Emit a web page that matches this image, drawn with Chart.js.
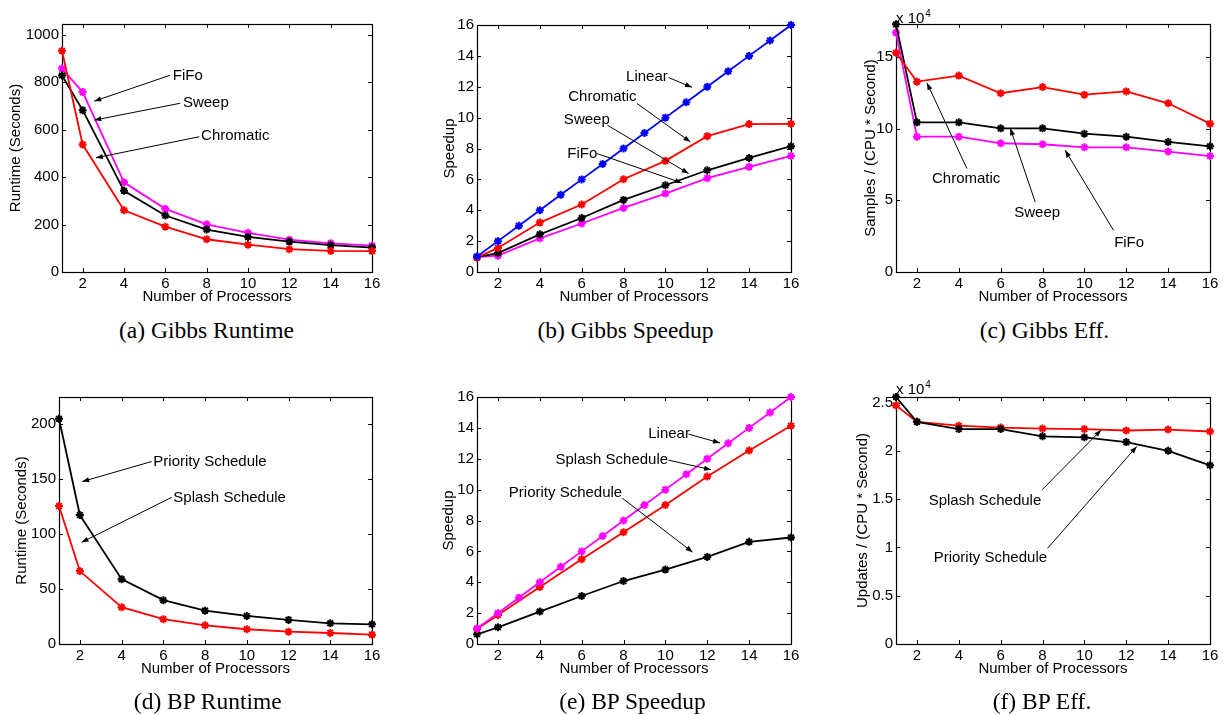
<!DOCTYPE html>
<html>
<head>
<meta charset="utf-8">
<script src="https://cdn.jsdelivr.net/npm/chart.js@4"></script>
<style>
body { margin: 0; background: #fff; width: 1224px; height: 715px; overflow: hidden; position: relative; }
canvas { position: absolute; }
.cap { position: absolute; font-family: "Liberation Serif", "Times New Roman", serif; font-size: 23.5px; line-height: 1; white-space: nowrap; transform: translateX(-50%); color: #000; }
</style>
</head>
<body>
<canvas id="ga"></canvas>
<canvas id="gb"></canvas>
<canvas id="gc"></canvas>
<canvas id="bd"></canvas>
<canvas id="be"></canvas>
<canvas id="bf"></canvas>
<div class="cap" style="left:206.5px;top:318.6px">(a) Gibbs Runtime</div>
<div class="cap" style="left:625.5px;top:318.6px">(b) Gibbs Speedup</div>
<div class="cap" style="left:1044.5px;top:318.6px">(c) Gibbs Eff.</div>
<div class="cap" style="left:207.8px;top:689.6px">(d) BP Runtime</div>
<div class="cap" style="left:632.5px;top:689.6px">(e) BP Speedup</div>
<div class="cap" style="left:1042px;top:689.6px">(f) BP Eff.</div>
<script>
// x values (number of processors)
var procs = [1, 2, 4, 6, 8, 10, 12, 14, 16];
var procsAll = [1, 2, 3, 4, 5, 6, 7, 8, 9, 10, 11, 12, 13, 14, 15, 16];
var linearSpeedup = [1, 2, 3, 4, 5, 6, 7, 8, 9, 10, 11, 12, 13, 14, 15, 16];
var xTicks = [2, 4, 6, 8, 10, 12, 14, 16];

// (a) Gibbs runtime (seconds)
var gibbsRuntimeChromatic = [932, 537, 260, 191, 138, 115, 96, 89, 88];
var gibbsRuntimeSweep = [828, 682, 342, 238, 179, 148, 128, 113, 103];
var gibbsRuntimeFifo = [857, 758, 378, 266, 201, 165, 136, 121, 111];
var yTicksRuntimeA = [0, 200, 400, 600, 800, 1000];

// (b) Gibbs speedup
var gibbsSpeedupChromatic = [0.93, 1.56, 3.2, 4.37, 6.01, 7.2, 8.8, 9.58, 9.6];
var gibbsSpeedupSweep = [0.97, 1.23, 2.44, 3.5, 4.67, 5.62, 6.59, 7.39, 8.15];
var gibbsSpeedupFifo = [0.97, 1.06, 2.18, 3.14, 4.15, 5.08, 6.08, 6.81, 7.52];
var yTicksSpeedup = [0, 2, 4, 6, 8, 10, 12, 14, 16];

// (c) Gibbs samples / (cpu * second), in units of 1e4
var gibbsEffChromatic = [15.3, 13.28, 13.7, 12.47, 12.9, 12.37, 12.6, 11.77, 10.35];
var gibbsEffSweep = [17.28, 10.44, 10.44, 10.02, 10.02, 9.65, 9.44, 9.07, 8.77];
var gibbsEffFifo = [16.7, 9.44, 9.44, 8.98, 8.91, 8.7, 8.7, 8.4, 8.09];
var yTicksEffC = [0, 5, 10, 15];

// (d) BP runtime (seconds)
var bpRuntimePriority = [204.5, 117.1, 58.9, 39.8, 30.3, 25.5, 21.9, 18.8, 17.9];
var bpRuntimeSplash = [125.3, 66.2, 33.4, 22.5, 17, 13.4, 11.2, 10, 8.5];
var yTicksRuntimeD = [0, 50, 100, 150, 200];

// (e) BP speedup
var bpSpeedupSplash = [0.97, 1.88, 3.7, 5.49, 7.24, 9.0, 10.85, 12.54, 14.14];
var bpSpeedupPriority = [0.63, 1.08, 2.1, 3.11, 4.08, 4.82, 5.64, 6.62, 6.9];

// (f) BP updates / (cpu * second), in units of 1e4
var bpEffSplash = [2.47, 2.3, 2.26, 2.24, 2.23, 2.225, 2.21, 2.22, 2.2];
var bpEffPriority = [2.557, 2.3, 2.225, 2.225, 2.15, 2.14, 2.09, 2.0, 1.85];
var yTicksEffF = [0, 0.5, 1, 1.5, 2, 2.5];

var RED = '#ff0000', BLACK = '#000000', MAGENTA = '#ff00ff', BLUE = '#0000ff';
var FONT = '"Liberation Sans", Arial, Helvetica, sans-serif';

function pts(xs, ys) {
  return xs.map(function (x, i) { return { x: x, y: ys[i] }; });
}

function series(xs, ys, color) {
  return {
    data: pts(xs, ys),
    borderColor: color,
    backgroundColor: color,
    borderWidth: 1.8,
    pointStyle: 'star',
    pointRadius: 4,
    pointBorderWidth: 2,
    pointBorderColor: color,
    tension: 0,
    clip: false
  };
}

// box, inward tick marks, arrows with labels, exponent label
var matlabAxes = {
  id: 'matlabAxes',
  beforeDatasetsDraw: function (chart) {
    var a = chart.chartArea, ctx = chart.ctx;
    var xs = chart.scales.x, ys = chart.scales.y;
    ctx.save();
    ctx.strokeStyle = '#000';
    ctx.lineWidth = 1;
    ctx.beginPath();
    xs.ticks.forEach(function (t) {
      var p = Math.round(xs.getPixelForValue(t.value)) + 0.5;
      ctx.moveTo(p, a.bottom); ctx.lineTo(p, a.bottom - 4);
      ctx.moveTo(p, a.top); ctx.lineTo(p, a.top + 4);
    });
    ys.ticks.forEach(function (t) {
      var p = Math.round(ys.getPixelForValue(t.value)) + 0.5;
      ctx.moveTo(a.left, p); ctx.lineTo(a.left + 4, p);
      ctx.moveTo(a.right, p); ctx.lineTo(a.right - 4, p);
    });
    ctx.stroke();
    ctx.lineWidth = 1.2;
    ctx.strokeRect(Math.round(a.left) + 0.5, Math.round(a.top) + 0.5,
      Math.round(a.right - a.left), Math.round(a.bottom - a.top));
    ctx.restore();
  },
  afterDatasetsDraw: function (chart, args, opts) {
    var a = chart.chartArea, ctx = chart.ctx;
    var xs = chart.scales.x, ys = chart.scales.y;
    ctx.save();
    ctx.fillStyle = '#000';
    ctx.strokeStyle = '#000';
    ctx.lineWidth = 1;
    ctx.font = '15px ' + FONT;
    ctx.textBaseline = 'middle';
    ctx.textAlign = 'left';
    (opts.notes || []).forEach(function (n) {
      ctx.fillText(n.text, xs.getPixelForValue(n.tx), ys.getPixelForValue(n.ty));
      var x1 = xs.getPixelForValue(n.x1), y1 = ys.getPixelForValue(n.y1);
      var x2 = xs.getPixelForValue(n.x2), y2 = ys.getPixelForValue(n.y2);
      ctx.beginPath();
      ctx.moveTo(x1, y1);
      ctx.lineTo(x2, y2);
      ctx.stroke();
      var ang = Math.atan2(y2 - y1, x2 - x1), L = 7, W = 2.6;
      var bx = x2 - L * Math.cos(ang), by = y2 - L * Math.sin(ang);
      ctx.beginPath();
      ctx.moveTo(x2, y2);
      ctx.lineTo(bx - W * Math.sin(ang), by + W * Math.cos(ang));
      ctx.lineTo(bx + W * Math.sin(ang), by - W * Math.cos(ang));
      ctx.closePath();
      ctx.fill();
    });
    if (opts.exponent) {
      ctx.textBaseline = 'alphabetic';
      ctx.font = '15px ' + FONT;
      ctx.fillText('x 10', a.left, a.top - opts.expGap);
      var w = ctx.measureText('x 10').width;
      ctx.font = '10px ' + FONT;
      ctx.fillText('4', a.left + w + 1, a.top - opts.expGap - 6);
    }
    ctx.restore();
  }
};

function makePanel(id, box, yMax, yTicks, yTitle, yTitlePad, datasets, notes, exponent, expGap) {
  var cv = document.getElementById(id);
  var padRight = 14;
  cv.width = box.w + 60 + padRight;
  cv.height = box.h + 20 + 45;
  cv.style.left = (box.l - 60) + 'px';
  cv.style.top = (box.t - 20) + 'px';
  return new Chart(cv.getContext('2d'), {
    type: 'line',
    data: { datasets: datasets },
    options: {
      responsive: false,
      animation: false,
      events: [],
      layout: { padding: { left: 0, top: 20, right: padRight, bottom: 0 } },
      plugins: {
        legend: { display: false },
        tooltip: { enabled: false },
        matlabAxes: { notes: notes, exponent: exponent, expGap: expGap || 2 }
      },
      scales: {
        x: {
          type: 'linear',
          min: 1,
          max: 16,
          afterBuildTicks: function (s) { s.ticks = xTicks.map(function (v) { return { value: v }; }); },
          afterFit: function (s) { s.height = 45; },
          grid: { display: false, drawTicks: false },
          border: { display: false },
          ticks: { color: '#000', font: { family: FONT, size: 15 }, padding: 3, maxRotation: 0, autoSkip: false,
            callback: function (v) { return String(v); } },
          title: { display: true, text: 'Number of Processors', color: '#000',
            font: { family: FONT, size: 15 }, padding: { top: 0, bottom: 11.5 } }
        },
        y: {
          min: 0,
          max: yMax,
          afterBuildTicks: function (s) { s.ticks = yTicks.map(function (v) { return { value: v }; }); },
          afterFit: function (s) { s.width = 60; },
          grid: { display: false, drawTicks: false },
          border: { display: false },
          ticks: { color: '#000', font: { family: FONT, size: 15 }, padding: 3, autoSkip: false,
            callback: function (v) { return String(v); } },
          title: { display: true, text: yTitle, color: '#000',
            font: { family: FONT, size: 15 }, padding: { top: yTitlePad, bottom: 0 } }
        }
      }
    },
    plugins: [matlabAxes]
  });
}

makePanel('ga', { l: 62, t: 24, w: 310, h: 248 }, 1045, yTicksRuntimeA, 'Runtime (Seconds)', 4.8, [
  series(procs, gibbsRuntimeChromatic, RED),
  series(procs, gibbsRuntimeSweep, BLACK),
  series(procs, gibbsRuntimeFifo, MAGENTA)
], [
  { text: 'FiFo', tx: 6.36, ty: 826, x1: 6.23, y1: 829, x2: 2.56, y2: 720 },
  { text: 'Sweep', tx: 6.85, ty: 714, x1: 6.72, y1: 711, x2: 2.56, y2: 640 },
  { text: 'Chromatic', tx: 7.73, ty: 572, x1: 7.64, y1: 570, x2: 2.64, y2: 481 }
], false);

makePanel('gb', { l: 477, t: 25, w: 314, h: 247 }, 16, yTicksSpeedup, 'Speedup', 23.6, [
  series(procsAll, linearSpeedup, BLUE),
  series(procs, gibbsSpeedupChromatic, RED),
  series(procs, gibbsSpeedupSweep, BLACK),
  series(procs, gibbsSpeedupFifo, MAGENTA)
], [
  { text: 'Linear', tx: 8.12, ty: 12.65, x1: 10.15, y1: 12.6, x2: 11.27, y2: 11.96 },
  { text: 'Chromatic', tx: 5.36, ty: 11.35, x1: 8.64, y1: 10.92, x2: 11.19, y2: 8.43 },
  { text: 'Sweep', tx: 5.15, ty: 9.88, x1: 7.23, y1: 9.51, x2: 11.11, y2: 6.38 },
  { text: 'FiFo', tx: 5.31, ty: 7.68, x1: 6.72, y1: 7.68, x2: 10.79, y2: 5.77 }
], false);

makePanel('gc', { l: 896, t: 24, w: 314, h: 248 }, 17.3, yTicksEffC, 'Samples / (CPU * Second)', 25.7, [
  series(procs, gibbsEffChromatic, RED),
  series(procs, gibbsEffSweep, BLACK),
  series(procs, gibbsEffFifo, MAGENTA)
], [
  { text: 'Chromatic', tx: 2.72, ty: 6.51, x1: 4.39, y1: 7.21, x2: 2.48, y2: 13.19 },
  { text: 'Sweep', tx: 6.65, ty: 4.12, x1: 7.65, y1: 4.88, x2: 6.46, y2: 10.02 },
  { text: 'FiFo', tx: 11.42, ty: 2.05, x1: 11.39, y1: 2.91, x2: 9.08, y2: 8.49 }
], true, 1);

makePanel('bd', { l: 59, t: 397, w: 313, h: 247 }, 224.3, yTicksRuntimeD, 'Runtime (Seconds)', 13.7, [
  series(procs, bpRuntimePriority, BLACK),
  series(procs, bpRuntimeSplash, RED)
], [
  { text: 'Priority Schedule', tx: 5.52, ty: 165.1, x1: 5.44, y1: 165.7, x2: 2.11, y2: 147.5 },
  { text: 'Splash Schedule', tx: 6.48, ty: 132.9, x1: 6.4, y1: 133.2, x2: 2.08, y2: 92.3 }
], false);

makePanel('be', { l: 477, t: 397, w: 314, h: 247 }, 16, yTicksSpeedup, 'Speedup', 23, [
  series(procsAll, linearSpeedup, MAGENTA),
  series(procs, bpSpeedupSplash, RED),
  series(procs, bpSpeedupPriority, BLACK)
], [
  { text: 'Linear', tx: 9.18, ty: 13.6, x1: 11.1, y1: 13.6, x2: 12.61, y2: 13.02 },
  { text: 'Splash Schedule', tx: 4.75, ty: 11.91, x1: 10.14, y1: 11.91, x2: 12.18, y2: 11.29 },
  { text: 'Priority Schedule', tx: 2.52, ty: 9.82, x1: 7.94, y1: 9.45, x2: 11.3, y2: 5.95 }
], false);

makePanel('bf', { l: 896, t: 397, w: 314, h: 247 }, 2.557, yTicksEffF, 'Updates / (CPU * Second)', 18.3, [
  series(procs, bpEffPriority, BLACK),
  series(procs, bpEffSplash, RED)
], [
  { text: 'Splash Schedule', tx: 2.56, ty: 1.484, x1: 7.97, y1: 1.595, x2: 10.8, y2: 2.215 },
  { text: 'Priority Schedule', tx: 2.8, ty: 0.893, x1: 8.24, y1: 0.99, x2: 12.5, y2: 2.045 }
], true, 3);
</script>
</body>
</html>
